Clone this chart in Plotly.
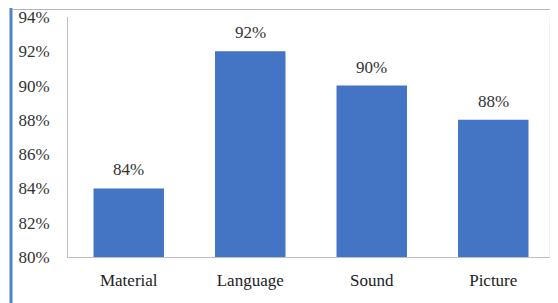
import plotly.graph_objects as go

categories = ["Material", "Language", "Sound", "Picture"]
values = [84, 92, 90, 88]
tick_vals = [80, 82, 84, 86, 88, 90, 92, 94]
tick_text = ["80%", "82%", "84%", "86%", "88%", "90%", "92%", "94%"]
labels = [f"{v}%" for v in values]

# the page body adds an 8px offset, so figure coordinates are shifted by -8
W, H = 558, 303
ml, mr, mt, mb = 60, 12, 9, 54
pw, ph = W - ml - mr, H - mt - mb
SERIF = "Liberation Serif, Times New Roman, serif"

fig = go.Figure(go.Bar(
    x=categories, y=values, base=0,
    marker=dict(color="#4475C5", line=dict(width=0)),
    width=0.58,
))

for c, v, t in zip(categories, values, labels):
    fig.add_annotation(x=c, y=v, text=t, showarrow=False, yanchor="bottom",
                       yshift=7, font=dict(family=SERIF, size=17, color="#333333"))

fig.update_layout(
    width=W, height=H, margin=dict(l=ml, r=mr, t=mt, b=mb, autoexpand=False),
    paper_bgcolor="white", plot_bgcolor="white", showlegend=False,
    font=dict(family=SERIF, size=17, color="#333333"),
)
fig.update_yaxes(range=[80, 94], tickvals=tick_vals, ticktext=tick_text,
                 tickfont=dict(family=SERIF, size=17, color="#333333"),
                 showgrid=False, showline=True, linecolor="#BFBFBF", linewidth=1,
                 ticks="", ticklabelstandoff=14, zeroline=False, automargin=False,
                 ticklabeloverflow="allow")
fig.update_xaxes(range=[-0.5, 3.5], showline=True, linecolor="#BFBFBF", linewidth=1, ticks="",
                 tickfont=dict(family=SERIF, size=17, color="#222222"),
                 showgrid=False, ticklabelstandoff=8, automargin=False)

# chart-box borders
fig.add_shape(type="line", xref="paper", yref="paper",
              x0=(3 - ml) / pw, x1=(3 - ml) / pw, y0=-mb / ph, y1=1 + mt / ph,
              line=dict(color="#4A86C8", width=3))
fig.add_shape(type="line", xref="paper", yref="paper",
              x0=(4 - ml) / pw, x1=(W - ml) / pw, y0=1 + (mt - 1.5) / ph, y1=1 + (mt - 1.5) / ph,
              line=dict(color="#B8B8B8", width=1))
fig.add_shape(type="line", xref="paper", yref="paper",
              x0=(542 - ml) / pw, x1=(542 - ml) / pw, y0=0, y1=1,
              line=dict(color="#E4E4E4", width=1))

fig.write_html("out.html")
